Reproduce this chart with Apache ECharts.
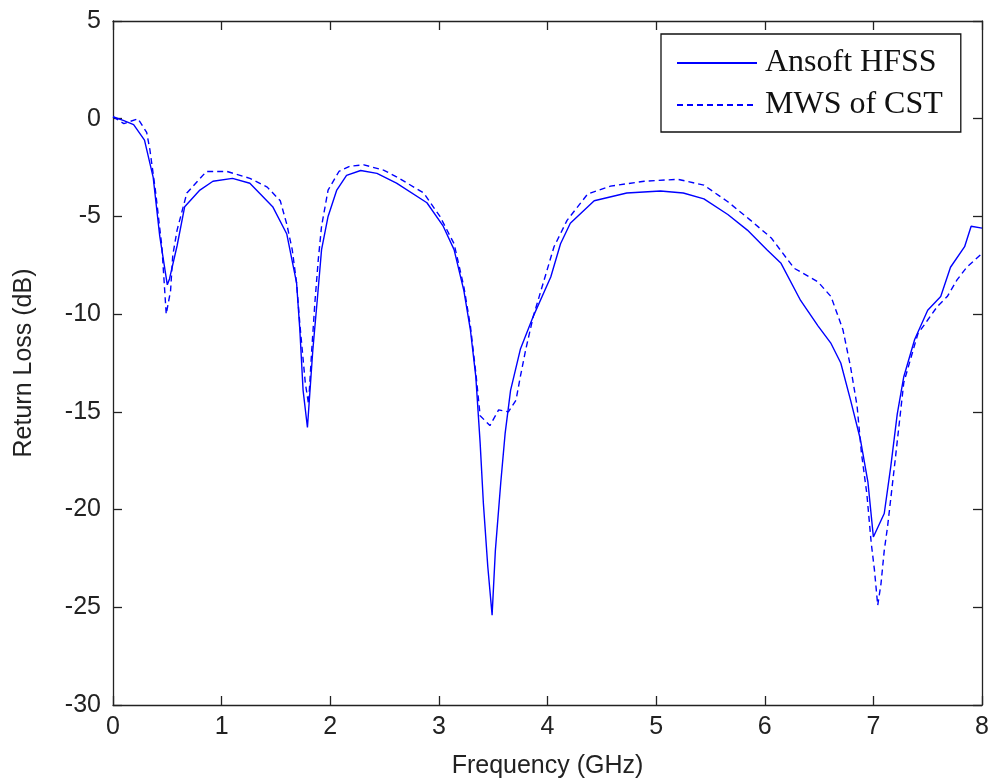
<!DOCTYPE html>
<html>
<head>
<meta charset="utf-8">
<script src="https://cdn.jsdelivr.net/npm/echarts@6/dist/echarts.min.js"></script>
<style>html,body{margin:0;padding:0;background:#fff;}#c{width:991px;height:780px;}</style>
</head>
<body>
<div id="c"></div>
<script>
const seriesNames = ['Ansoft HFSS', 'MWS of CST'];
const xTicks = [0, 1, 2, 3, 4, 5, 6, 7, 8];
const yTicks = [5, 0, -5, -10, -15, -20, -25, -30];

const hfssFreq = [0, 0.1, 0.19, 0.29, 0.37, 0.43, 0.5, 0.52, 0.59, 0.66, 0.8, 0.92, 1.1, 1.26, 1.47, 1.6, 1.69, 1.72, 1.75, 1.79, 1.84, 1.88, 1.92, 1.98, 2.06, 2.15, 2.28, 2.43, 2.61, 2.89, 3.04, 3.14, 3.23, 3.29, 3.34, 3.38, 3.41, 3.45, 3.49, 3.52, 3.57, 3.61, 3.66, 3.75, 3.87, 4.03, 4.12, 4.21, 4.43, 4.73, 5.04, 5.25, 5.44, 5.66, 5.84, 6.02, 6.15, 6.33, 6.49, 6.61, 6.70, 6.79, 6.88, 6.95, 7.0, 7.1, 7.16, 7.22, 7.28, 7.38, 7.5, 7.62, 7.71, 7.84, 7.9, 8.0];
const hfssLoss = [0.1, -0.1, -0.3, -1.1, -3.0, -6.0, -8.5, -8.2, -6.5, -4.5, -3.65, -3.2, -3.05, -3.3, -4.5, -5.9, -8.4, -10.8, -13.9, -15.8, -11.8, -9.3, -6.7, -5.0, -3.65, -2.9, -2.65, -2.8, -3.3, -4.3, -5.5, -6.7, -8.8, -10.8, -13.2, -16.6, -19.7, -22.9, -25.4, -22.1, -18.6, -16.1, -13.9, -11.8, -10.1, -8.1, -6.4, -5.35, -4.2, -3.8, -3.7, -3.8, -4.1, -4.9, -5.7, -6.7, -7.4, -9.3, -10.6, -11.5, -12.5, -14.4, -16.4, -18.6, -21.4, -20.2, -17.8, -15.1, -13.2, -11.3, -9.8, -9.1, -7.6, -6.55, -5.5, -5.6];

const cstFreq = [0, 0.1, 0.23, 0.31, 0.34, 0.39, 0.45, 0.49, 0.53, 0.55, 0.59, 0.68, 0.86, 1.05, 1.26, 1.42, 1.54, 1.6, 1.65, 1.69, 1.72, 1.77, 1.8, 1.83, 1.86, 1.89, 1.92, 1.98, 2.08, 2.18, 2.31, 2.49, 2.61, 2.86, 3.01, 3.14, 3.23, 3.29, 3.34, 3.38, 3.47, 3.55, 3.64, 3.71, 3.75, 3.8, 3.87, 4.06, 4.18, 4.37, 4.58, 4.89, 5.2, 5.44, 5.66, 5.87, 6.06, 6.27, 6.49, 6.61, 6.72, 6.79, 6.85, 6.89, 6.94, 6.98, 7.01, 7.04, 7.07, 7.1, 7.13, 7.2, 7.28, 7.41, 7.5, 7.59, 7.68, 7.77, 7.86, 8.0];
const cstLoss = [0.1, -0.25, 0.0, -0.7, -1.6, -3.65, -6.55, -10.0, -8.8, -7.0, -5.7, -3.8, -2.7, -2.7, -3.05, -3.5, -4.2, -5.4, -6.7, -8.4, -10.5, -13.5, -14.6, -11.8, -9.3, -7.2, -5.5, -3.65, -2.7, -2.43, -2.36, -2.63, -2.97, -3.8, -5.0, -6.4, -8.6, -10.6, -13.0, -15.2, -15.7, -14.9, -15.0, -14.4, -13.2, -11.8, -10.1, -6.55, -5.2, -3.85, -3.45, -3.2, -3.1, -3.4, -4.25, -5.2, -6.1, -7.65, -8.35, -9.1, -10.8, -12.7, -14.7, -17.1, -19.2, -21.7, -23.1, -24.9, -23.8, -22.1, -20.9, -17.5, -13.5, -11.0, -10.3, -9.6, -9.1, -8.25, -7.6, -6.9];

const pair = (xs, ys) => xs.map((x, i) => [x, ys[i]]);
const axisColor = '#222';
const labelFont = { fontFamily: 'Liberation Sans, Arial, sans-serif', fontSize: 25, color: '#222' };

const chart = echarts.init(document.getElementById('c'), null, { renderer: 'canvas' });
const xBase = {
  type: 'value', min: xTicks[0], max: xTicks[xTicks.length - 1], interval: 1,
  splitLine: { show: false },
  axisLine: { show: true, onZero: false, lineStyle: { color: axisColor, width: 1.3 } },
  axisTick: { show: true, inside: true, length: 9, lineStyle: { color: axisColor, width: 1.3 } }
};
const yBase = {
  type: 'value', min: yTicks[yTicks.length - 1], max: yTicks[0], interval: 5,
  splitLine: { show: false },
  axisLine: { show: true, onZero: false, lineStyle: { color: axisColor, width: 1.3 } },
  axisTick: { show: true, inside: true, length: 9, lineStyle: { color: axisColor, width: 1.3 } }
};
chart.setOption({
  animation: false,
  backgroundColor: '#fff',
  grid: { left: 113, right: 9, top: 21, bottom: 75, containLabel: false, outerBoundsMode: 'none' },
  legend: {
    orient: 'vertical', left: 661, top: 34,
    padding: [13, 18, 11, 15],
    itemWidth: 80, itemHeight: 14, itemGap: 10,
    itemStyle: { opacity: 0 },
    backgroundColor: '#fff', borderColor: '#111', borderWidth: 1.3,
    textStyle: { fontFamily: 'Liberation Serif, Times New Roman, serif', fontSize: 32, color: '#111', padding: [0, 0, 0, 3] },
    data: seriesNames
  },
  xAxis: [
    Object.assign({}, xBase, {
      position: 'bottom',
      axisLabel: Object.assign({ margin: 10 }, labelFont),
      name: 'Frequency (GHz)', nameLocation: 'middle', nameGap: 49,
      nameTextStyle: labelFont
    }),
    Object.assign({}, xBase, { position: 'top', axisLabel: { show: false } })
  ],
  yAxis: [
    Object.assign({}, yBase, {
      position: 'left',
      axisLabel: Object.assign({ margin: 12 }, labelFont),
      name: 'Return Loss (dB)', nameLocation: 'middle', nameGap: 76,
      nameTextStyle: labelFont
    }),
    Object.assign({}, yBase, { position: 'right', axisLabel: { show: false } })
  ],
  series: [
    {
      name: seriesNames[0], type: 'line', xAxisIndex: 0, yAxisIndex: 0,
      data: pair(hfssFreq, hfssLoss), symbol: 'none', smooth: false,
      lineStyle: { color: '#0000ff', width: 1.4, type: 'solid' },
      itemStyle: { color: '#0000ff' }
    },
    {
      name: seriesNames[1], type: 'line', xAxisIndex: 0, yAxisIndex: 0,
      data: pair(cstFreq, cstLoss), symbol: 'none', smooth: false,
      lineStyle: { color: '#0000ff', width: 1.4, type: [6, 4] },
      itemStyle: { color: '#0000ff' }
    }
  ]
});
</script>
</body>
</html>
